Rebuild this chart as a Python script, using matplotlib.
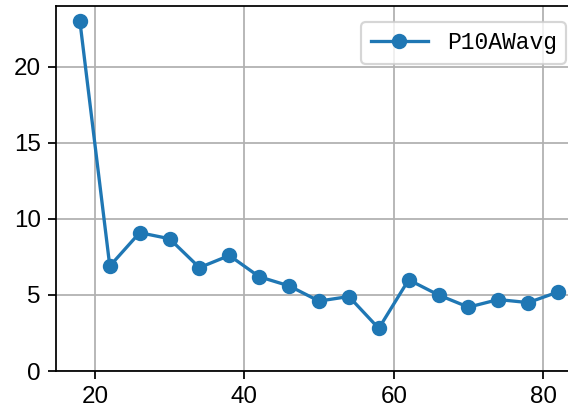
import matplotlib
matplotlib.use("Agg")
import matplotlib.pyplot as plt

# données
x_vals = [18, 22, 26, 30, 34, 38, 42, 46, 50, 54, 58, 62, 66, 70, 74, 78, 82]
p10awavg = [23.0, 6.9, 9.1, 8.7, 6.8, 7.6, 6.2, 5.6, 4.6, 4.9, 2.8, 6.0, 5.0, 4.2, 4.7, 4.5, 5.2]

plt.rcParams['font.family'] = ['Liberation Sans Narrow', 'Liberation Sans', 'DejaVu Sans']
plt.rcParams['font.size'] = 11

dpi = 158
fig = plt.figure(figsize=(568 / dpi, 414 / dpi), dpi=dpi)
# l'axe dépasse à droite comme dans l'original (figure rognée)
ax = fig.add_axes([56 / 568, 43 / 414, 526 / 568, 365 / 414])

ax.plot(x_vals, p10awavg, marker='o', label='P10AWavg')
ax.set_ylim(bottom=0)
ax.grid(True)
ax.legend(loc='upper right', prop={'family': 'Liberation Mono', 'size': 10.5},
          handlelength=2.5, borderaxespad=0.7)

fig.savefig('out.png', dpi=dpi)
